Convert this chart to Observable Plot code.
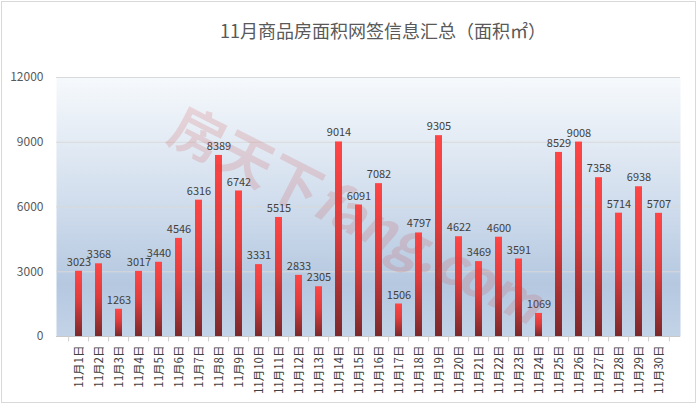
<!DOCTYPE html>
<html>
<head>
<meta charset="utf-8">
<script src="https://cdn.jsdelivr.net/npm/d3@7"></script>
<script src="https://cdn.jsdelivr.net/npm/@observablehq/plot@0.6"></script>
<style>
  html, body { margin: 0; padding: 0; background: #ffffff; }
  #wrap { position: relative; width: 698px; height: 405px; overflow: hidden; background: #fff;
          font-family: "Noto Sans CJK SC", "Noto Sans", sans-serif; }
  #border { position: absolute; left: 1px; top: 1px; width: 695px; height: 402px; box-sizing: border-box;
            border: 1px solid #d9d9d9; pointer-events: none; }
  #title { position: absolute; left: 0; width: 766px; top: 18px; text-align: center;
           font-size: 18px; color: #595959; font-weight: 400; line-height: 24px; }
  #chart { position: absolute; left: 0; top: 55px; }
  #mark { position: absolute; left: 358px; top: 212px; transform: translate(-50%, -50%) rotate(27deg);
          font-size: 54px; font-weight: bold; color: rgba(205, 70, 70, 0.18); white-space: nowrap;
          pointer-events: none; font-family: "Noto Sans CJK SC", sans-serif; }
</style>
</head>
<body>
<div id="wrap">
  <div id="title">11月商品房面积网签信息汇总（面积㎡）</div>
  <div id="chart"></div>
  <div id="mark">房天下<i>fang.com</i></div>
  <div id="border"></div>
</div>
<script>
const days = ["11月1日","11月2日","11月3日","11月4日","11月5日","11月6日","11月7日","11月8日","11月9日","11月10日",
  "11月11日","11月12日","11月13日","11月14日","11月15日","11月16日","11月17日","11月18日","11月19日","11月20日",
  "11月21日","11月22日","11月23日","11月24日","11月25日","11月26日","11月27日","11月28日","11月29日","11月30日"];
const areas = [3023,3368,1263,3017,3440,4546,6316,8389,6742,3331,
  5515,2833,2305,9014,6091,7082,1506,4797,9305,4622,
  3469,4600,3591,1069,8529,9008,7358,5714,6938,5707];
const yTicks = [0,3000,6000,9000,12000];

const data = days.map((d, i) => ({day: d, value: areas[i]}));

const W = 698, H = 350, mL = 56, mR = 18, mT = 22, mB = 69;
const step = (W - mL - mR) / days.length;

const defs = () => {
  const g = d3.create("svg:defs");
  const bg = g.append("linearGradient").attr("id", "bgGrad").attr("x1", 0).attr("y1", 0).attr("x2", 0).attr("y2", 1);
  bg.append("stop").attr("offset", "0%").attr("stop-color", "#f6f9fc");
  bg.append("stop").attr("offset", "45%").attr("stop-color", "#d3dfee");
  bg.append("stop").attr("offset", "80%").attr("stop-color", "#b5c8e0");
  bg.append("stop").attr("offset", "100%").attr("stop-color", "#c3d3e7");
  const bar = g.append("linearGradient").attr("id", "barGrad").attr("x1", 0).attr("y1", 0).attr("x2", 0).attr("y2", 1);
  bar.append("stop").attr("offset", "0%").attr("stop-color", "#ff4545");
  bar.append("stop").attr("offset", "45%").attr("stop-color", "#e03c3c");
  bar.append("stop").attr("offset", "100%").attr("stop-color", "#7a292b");
  return g.node();
};

const chart = Plot.plot({
  width: W, height: H,
  marginLeft: mL, marginRight: mR, marginTop: mT, marginBottom: mB,
  style: {fontFamily: '"Noto Sans CJK SC", "Noto Sans", sans-serif', background: "transparent", overflow: "visible"},
  x: {type: "band", domain: days, paddingInner: 0.66, paddingOuter: 0.33, label: null},
  y: {domain: [0, 12000], label: null},
  marks: [
    defs,
    Plot.frame({fill: "url(#bgGrad)", stroke: "none"}),
    Plot.ruleY(yTicks.filter(t => t > 0), {stroke: "#d9d9d9", strokeWidth: 1}),
    Plot.ruleY([0], {stroke: "#c8c8c8", strokeWidth: 1}),
    Plot.ruleX(days, {x: d => d, y1: 0, y2: -250, dx: -step / 2, stroke: "#d0d0d0"}),
    Plot.ruleX([days[days.length - 1]], {x: d => d, y1: 0, y2: -250, dx: step / 2, stroke: "#d0d0d0"}),
    Plot.barY(data, {x: "day", y: "value", fill: "url(#barGrad)"}),
    Plot.text(data, {x: "day", y: "value", text: d => String(d.value), dy: -9, fontSize: 11, fill: "#404040"}),
    Plot.axisY({ticks: yTicks, tickSize: 0, tickPadding: 13, fontSize: 12, fill: "#595959",
                tickFormat: d => String(d), label: null}),
    Plot.axisX({tickRotate: -90, tickSize: 0, tickPadding: 9, fontSize: 11.5, fill: "#404040", label: null})
  ]
});
document.getElementById("chart").appendChild(chart);
</script>
</body>
</html>
